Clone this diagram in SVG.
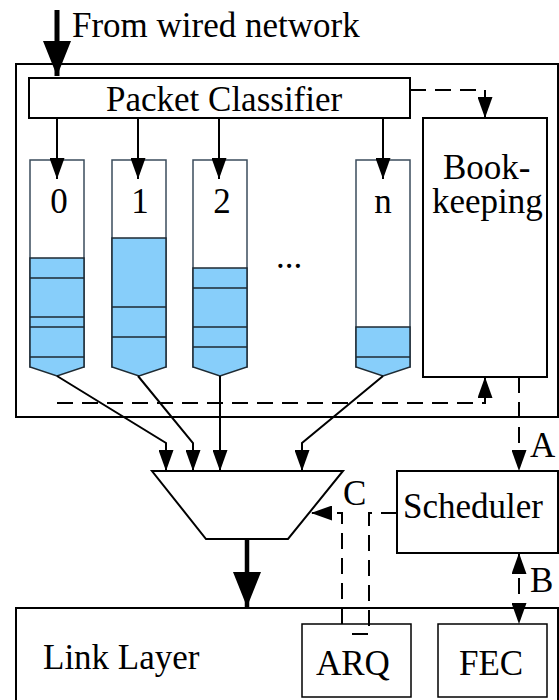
<svg xmlns="http://www.w3.org/2000/svg" width="559" height="700" viewBox="0 0 559 700">
  <style>
    text { font-family: "Liberation Serif", "Times New Roman", serif; font-size: 35px; fill: #000; }
    .box { fill: #fff; stroke: #000; stroke-width: 2; }
    .thin { fill: #fff; stroke: #000; stroke-width: 1.5; }
    .wire { fill: none; stroke: #000; stroke-width: 2; }
    .dash { fill: none; stroke: #000; stroke-width: 2; stroke-dasharray: 16 9; }
    .qwall { fill: #fff; stroke: #3b4c5c; stroke-width: 1.5; }
    .qfill { fill: #87cefa; stroke: #1e2a33; stroke-width: 1.5; }
    .qline { stroke: #1e2a33; stroke-width: 1.5; }
  </style>
  <defs>
    <marker id="head" viewBox="0 0 15 21" refX="15" refY="7.5" markerWidth="21" markerHeight="15" markerUnits="userSpaceOnUse" orient="auto">
      <path d="M0,0 L21,7.5 L0,15 z" fill="#000"/>
    </marker>
    <marker id="headB" viewBox="0 0 21 15" refX="21" refY="7.5" markerWidth="21" markerHeight="15" markerUnits="userSpaceOnUse" orient="auto">
      <path d="M0,0 L21,7.5 L0,15 z" fill="#000"/>
    </marker>
    <marker id="headStart" viewBox="0 0 21 15" refX="21" refY="7.5" markerWidth="21" markerHeight="15" markerUnits="userSpaceOnUse" orient="auto-start-reverse">
      <path d="M0,0 L21,7.5 L0,15 z" fill="#000"/>
    </marker>
    <marker id="bigHead" viewBox="0 0 35 28" refX="35" refY="14" markerWidth="35" markerHeight="28" markerUnits="userSpaceOnUse" orient="auto">
      <path d="M0,0 L35,14 L0,28 z" fill="#000"/>
    </marker>
  </defs>

  <!-- base station enclosure -->
  <g id="enclosure">
    <rect class="box" x="16" y="64" width="542" height="353"/>
  </g>

  <!-- incoming traffic -->
  <g id="input">
    <text x="72" y="37">From wired network</text>
  </g>

  <g id="classifier">
    <rect class="box" x="29" y="78" width="381" height="40"/>
    <text x="106" y="111">Packet Classifier</text>
  </g>

  <g id="bookkeeping">
    <rect class="box" x="423" y="118" width="124" height="259"/>
    <text x="443" y="179">Book-</text>
    <text x="432" y="213">keeping</text>
  </g>

  <!-- per-flow queues -->
  <g id="queue0">
    <rect class="qwall" x="30" y="160" width="54" height="207"/>
    <path class="qfill" d="M30,258 H84 V367 L57,376 L30,367 Z"/>
    <path class="qline" d="M30,278 H84 M30,317 H84 M30,327 H84 M30,357 H84"/>
    <text x="59" y="213" text-anchor="middle">0</text>
  </g>
  <g id="queue1">
    <rect class="qwall" x="112" y="160" width="54" height="207"/>
    <path class="qfill" d="M112,238 H166 V367 L139,376 L112,367 Z"/>
    <path class="qline" d="M112,307 H166 M112,337 H166"/>
    <text x="140" y="213" text-anchor="middle">1</text>
  </g>
  <g id="queue2">
    <rect class="qwall" x="193" y="160" width="54" height="207"/>
    <path class="qfill" d="M193,268 H247 V367 L220,376 L193,367 Z"/>
    <path class="qline" d="M193,288 H247 M193,327 H247 M193,347 H247"/>
    <text x="222" y="213" text-anchor="middle">2</text>
  </g>
  <g id="ellipsis">
    <text x="276" y="268">...</text>
  </g>
  <g id="queueN">
    <rect class="qwall" x="356" y="160" width="54" height="207"/>
    <path class="qfill" d="M356,327 H410 V367 L383,376 L356,367 Z"/>
    <path class="qline" d="M356,357 H410"/>
    <text x="383" y="213" text-anchor="middle">n</text>
  </g>

  <g id="mux">
    <polygon class="box" points="152,471 343,471 288,539 206,539"/>
  </g>

  <g id="scheduler">
    <rect class="box" x="397" y="471" width="161" height="82"/>
    <text x="403" y="518">Scheduler</text>
  </g>

  <g id="linklayer">
    <rect class="box" x="16" y="608" width="542" height="100"/>
    <text x="43" y="669">Link Layer</text>
  </g>
  <g id="arq">
    <rect class="thin" x="302" y="624" width="109" height="73"/>
    <text x="316" y="675">ARQ</text>
  </g>
  <g id="fec">
    <rect class="thin" x="438" y="624" width="109" height="73"/>
    <text x="459" y="675">FEC</text>
  </g>

  <!-- connectors -->
  <g id="connectors">
    <!-- wired input -->
    <line x1="57" y1="10" x2="57" y2="76" stroke="#000" stroke-width="5" marker-end="url(#bigHead)"/>
    <!-- classifier to queues -->
    <line class="wire" x1="57" y1="118" x2="57" y2="179" marker-end="url(#headB)"/>
    <line class="wire" x1="138" y1="118" x2="138" y2="179" marker-end="url(#headB)"/>
    <line class="wire" x1="219" y1="118" x2="219" y2="179" marker-end="url(#headB)"/>
    <line class="wire" x1="383" y1="118" x2="383" y2="179" marker-end="url(#headB)"/>
    <!-- classifier to bookkeeping -->
    <path class="dash" d="M410,90 H485 V118" stroke-dasharray="14 12" marker-end="url(#headB)"/>
    <!-- queue status to bookkeeping -->
    <path class="dash" d="M57,403 H485 V377" stroke-dasharray="20 8" marker-end="url(#headB)"/>
    <!-- bookkeeping to scheduler (A) -->
    <path class="dash" d="M519,377 V471" marker-end="url(#headB)"/>
    <text x="530" y="457">A</text>
    <!-- scheduler to FEC (B) -->
    <path class="dash" d="M519,553 V624" stroke-dasharray="10 6" marker-start="url(#headStart)" marker-end="url(#headB)"/>
    <text x="530" y="592">B</text>
    <!-- queues to multiplexer -->
    <path class="wire" d="M57,376 L166,443 V471" marker-end="url(#headB)"/>
    <path class="wire" d="M138,376 L193,443 V471" marker-end="url(#headB)"/>
    <path class="wire" d="M220,376 V471" marker-end="url(#headB)"/>
    <path class="wire" d="M383,376 L302,443 V471" marker-end="url(#headB)"/>
    <!-- multiplexer to link layer -->
    <line x1="247" y1="539" x2="247" y2="607" stroke="#000" stroke-width="4.5" marker-end="url(#bigHead)"/>
    <!-- ARQ control to multiplexer (C) -->
    <path class="dash" d="M342,624 V513 H311" stroke-dasharray="18 10" marker-end="url(#headB)"/>
    <text x="343" y="505">C</text>
    <!-- scheduler to ARQ -->
    <path class="dash" d="M397,513 H369 V634 H343" stroke-dasharray="14 12"/>
  </g>
</svg>
